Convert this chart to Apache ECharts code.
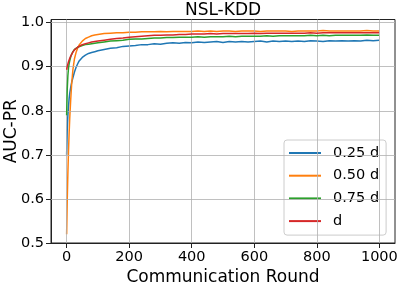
<!DOCTYPE html>
<html><head><meta charset="utf-8">
<script src="https://cdn.jsdelivr.net/npm/echarts@6/dist/echarts.min.js"></script>
<style>html,body{margin:0;padding:0;background:#fff}#c{width:399px;height:286px}</style>
</head><body><div id="c"></div>
<script>
const title = "NSL-KDD";
const xName = "Communication Round";
const yName = "AUC-PR";
const seriesNames = ["0.25 d", "0.50 d", "0.75 d", "d"];
const xTicks = [0, 200, 400, 600, 800, 1000];
const yTicks = [0.5, 0.6, 0.7, 0.8, 0.9, 1.0];
const rounds = [0,2,4,6,8,10,13,16,20,25,30,35,40,50,60,70,80,90,100,120,140,160,180,200,220,240,260,280,300,320,340,360,380,400,420,440,460,480,500,520,540,560,580,600,620,640,660,680,700,720,740,760,780,800,820,840,860,880,900,920,940,960,980,999];
const d025 = [0.700,0.760,0.790,0.810,0.828,0.840,0.853,0.864,0.875,0.888,0.898,0.906,0.913,0.921,0.926,0.930,0.932,0.934,0.936,
  0.939,0.942,0.943,0.946,0.947,0.948,0.950,0.950,0.952,0.951,0.953,0.954,0.953,0.955,0.954,
  0.956,0.955,0.956,0.957,0.955,0.957,0.956,0.957,0.956,0.957,
  0.958,0.956,0.958,0.957,0.958,0.957,0.958,0.957,0.959,0.958,
  0.957,0.959,0.958,0.959,0.958,0.959,0.958,0.960,0.959,
  0.960];
const d050 = [0.520,0.600,0.660,0.710,0.750,0.785,0.825,0.860,0.893,0.918,0.932,0.942,0.949,0.958,0.964,0.967,0.970,0.972,0.973,
  0.975,0.976,0.977,0.977,0.978,0.978,0.979,0.979,0.979,0.980,0.979,0.980,0.980,0.980,0.980,
  0.981,0.980,0.981,0.980,0.981,0.981,0.980,0.981,0.981,0.981,
  0.980,0.981,0.981,0.981,0.981,0.980,0.981,0.981,0.981,0.981,
  0.982,0.981,0.981,0.981,0.981,0.981,0.981,0.982,0.981,
  0.981];
const d075 = [0.790,0.850,0.880,0.897,0.907,0.914,0.922,0.928,0.934,0.939,0.942,0.944,0.946,0.948,0.950,0.951,0.952,0.953,0.954,
  0.956,0.958,0.959,0.960,0.962,0.963,0.963,0.964,0.965,0.965,0.966,0.966,0.967,0.967,0.967,
  0.968,0.967,0.968,0.968,0.968,0.969,0.968,0.969,0.969,0.969,
  0.969,0.970,0.969,0.970,0.970,0.970,0.970,0.970,0.971,0.970,
  0.971,0.970,0.971,0.971,0.971,0.971,0.971,0.972,0.971,
  0.971];
const d100 = [0.893,0.900,0.906,0.911,0.915,0.919,0.924,0.928,0.933,0.938,0.941,0.944,0.946,0.950,0.952,0.954,0.956,0.957,0.958,
  0.960,0.962,0.964,0.965,0.967,0.968,0.969,0.970,0.971,0.971,0.972,0.972,0.973,0.973,0.974,
  0.974,0.974,0.975,0.974,0.975,0.975,0.975,0.975,0.975,0.976,
  0.975,0.976,0.976,0.976,0.976,0.976,0.976,0.976,0.977,0.976,
  0.977,0.977,0.977,0.977,0.977,0.977,0.977,0.977,0.977,
  0.977];
const colors = ["#1f77b4", "#ff7f0e", "#2ca02c", "#d62728"];
const allValues = [d025, d050, d075, d100];

const font = "DejaVu Sans";
const chart = echarts.init(document.getElementById('c'), null, {renderer: 'canvas'});
const series = allValues.map((vals, i) => ({
  name: seriesNames[i], type: 'line', showSymbol: false, symbol: 'none',
  data: rounds.map((r, j) => [r, vals[j]]),
  lineStyle: {color: colors[i], width: 1.5}, itemStyle: {color: colors[i]},
  z: 3 + i, animation: false
}));
series.unshift({
  name: '_grid', type: 'line', data: [], z: 1, silent: true, animation: false,
  markLine: {silent: true, symbol: 'none', animation: false,
    label: {show: false},
    lineStyle: {color: '#b0b0b0', width: 0.8, type: 'solid'},
    data: xTicks.map(v => ({xAxis: v})).concat(yTicks.slice(1).map(v => ({yAxis: v})))}
});
chart.setOption({
  animation: false,
  title: {text: title, left: 223, textAlign: 'center', top: 2, padding: 0,
    textStyle: {fontFamily: font, fontSize: 17, fontWeight: 'normal', color: '#000'}},
  grid: {left: 51, right: 4, top: 19.5, bottom: 43, containLabel: false, outerBoundsMode: 'none',
    show: true, borderColor: '#222', borderWidth: 1, backgroundColor: 'transparent'},
  legend: {data: seriesNames, left: 284, top: 140, orient: 'vertical', icon: 'rect', itemWidth: 32, itemHeight: 2,
    itemGap: 6.7, padding: [5, 7, 6, 5], backgroundColor: 'rgba(255,255,255,0.8)', borderColor: '#cccccc', borderWidth: 1, borderRadius: 3,
    selectedMode: false,
    textStyle: {fontFamily: font, fontSize: 14.5, color: '#000', lineHeight: 16, padding: [0, 0, 0, 7]}},
  xAxis: {type: 'value', min: -50, max: 1050,
    name: xName, nameLocation: 'middle', nameGap: 26, nameMoveOverlap: false,
    nameTextStyle: {fontFamily: font, fontSize: 17, color: '#000'},
    axisLine: {show: true, onZero: false, lineStyle: {color: '#222', width: 1}},
    axisTick: {show: true, length: 5, customValues: xTicks, lineStyle: {color: '#222'}},
    axisLabel: {customValues: xTicks, margin: 7, fontFamily: font, fontSize: 14.5, color: '#000',
      formatter: v => String(v)},
    splitLine: {show: false}},
  yAxis: {type: 'value', min: 0.5, max: 1.007,
    name: yName, nameLocation: 'middle', nameGap: 31, nameRotate: 90, nameMoveOverlap: false,
    nameTextStyle: {fontFamily: font, fontSize: 17, color: '#000'},
    axisLine: {show: true, onZero: false, lineStyle: {color: '#222', width: 1}},
    axisTick: {show: true, length: 5, customValues: yTicks, lineStyle: {color: '#222'}},
    axisLabel: {customValues: yTicks, margin: 7, fontFamily: font, fontSize: 14.5, color: '#000',
      formatter: v => v.toFixed(1)},
    splitLine: {show: false}},
  series: series
});
</script></body></html>
